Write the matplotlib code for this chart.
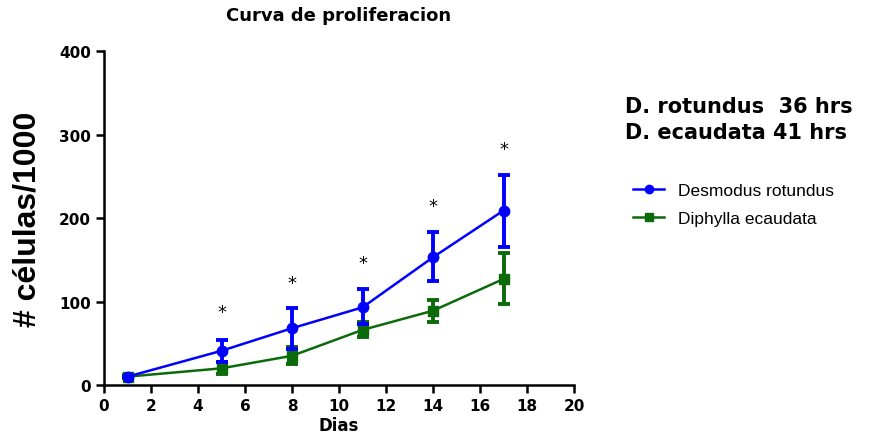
import matplotlib
matplotlib.use("Agg")
import matplotlib.pyplot as plt
from matplotlib.lines import Line2D

# Days of culture
dias = [1, 5, 8, 11, 14, 17]

# Desmodus rotundus: mean and error bar ends
rotundus = [10, 41, 68, 93, 153, 209]
rotundus_hi = [10, 54, 92, 115, 183, 252]
rotundus_lo = [10, 27, 43, 73, 124, 165]

# Diphylla ecaudata
ecaudata = [10, 20, 35, 66, 89, 127]
ecaudata_hi = [12, 27, 46, 75, 102, 158]
ecaudata_lo = [8, 13, 25, 57, 76, 97]

# significance stars
star_x = [5, 8, 11, 14, 17]
star_y = [88, 122, 146, 214, 283]

blue = "#0000ff"
green = "#0b6b0b"

fig = plt.figure(figsize=(8.86, 4.39), dpi=100)
ax = fig.add_axes([0.1174, 0.1207, 0.5305, 0.7608])

err_r = [[m - l for m, l in zip(rotundus, rotundus_lo)], [h - m for m, h in zip(rotundus, rotundus_hi)]]
err_e = [[m - l for m, l in zip(ecaudata, ecaudata_lo)], [h - m for m, h in zip(ecaudata, ecaudata_hi)]]

ax.errorbar(dias, ecaudata, yerr=err_e, color=green, marker="s", markersize=7,
            linewidth=1.8, elinewidth=2.8, capsize=4, capthick=2.8, zorder=2)
ax.errorbar(dias, rotundus, yerr=err_r, color=blue, marker="o", markersize=7.5,
            linewidth=1.8, elinewidth=2.8, capsize=4, capthick=2.8, zorder=3)

for x, y in zip(star_x, star_y):
    ax.text(x, y, "*", ha="center", va="center", fontsize=13, color="black")

ax.set_xlim(0, 20)
ax.set_ylim(0, 400)
ax.set_xticks(range(0, 21, 2))
ax.set_yticks(range(0, 401, 100))
for s in ["top", "right"]:
    ax.spines[s].set_visible(False)
for s in ["left", "bottom"]:
    ax.spines[s].set_linewidth(1.8)
ax.tick_params(direction="out", width=1.8, length=6, labelsize=11)
for lab in ax.get_xticklabels() + ax.get_yticklabels():
    lab.set_fontweight("bold")

ax.set_xlabel("Dias", fontsize=12, fontweight="bold", labelpad=2)
ax.set_ylabel("# células/1000", fontsize=23, fontweight="bold", family="Liberation Sans", labelpad=12)
ax.set_title("Curva de proliferacion", fontsize=13, fontweight="bold", pad=22)

fig.text(0.705, 0.756, "D. rotundus  36 hrs", fontsize=15, fontweight="bold", va="center")
fig.text(0.705, 0.697, "D. ecaudata 41 hrs", fontsize=15, fontweight="bold", va="center")

handles = [
    Line2D([], [], color=blue, marker="o", markersize=6, linewidth=1.8),
    Line2D([], [], color=green, marker="s", markersize=6, linewidth=1.8),
]
labels = ["Desmodus rotundus", "Diphylla ecaudata"]
fig.legend(handles, labels, loc="upper left", bbox_to_anchor=(0.697, 0.617),
           frameon=False, handlelength=1.8, handletextpad=0.8, labelspacing=0.75,
           prop={"family": "Liberation Sans", "size": 12.5})

fig.savefig("out.png", dpi=100)
